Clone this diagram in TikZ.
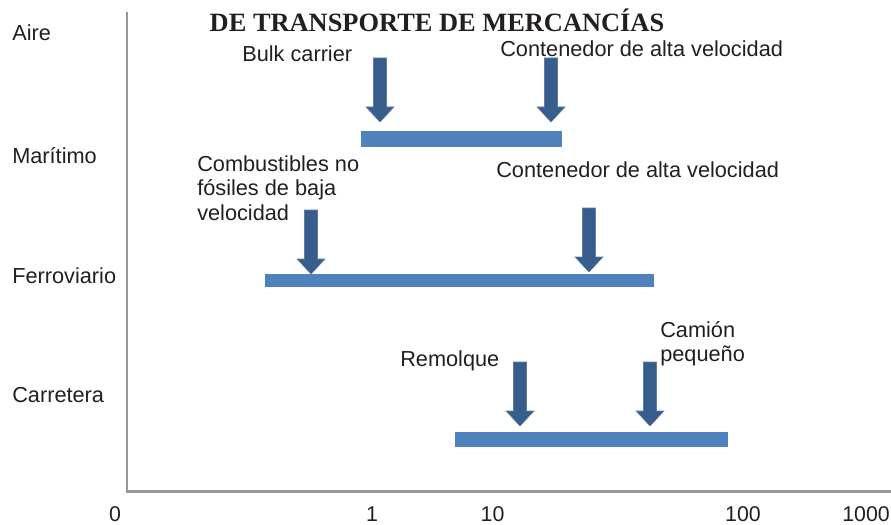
\documentclass[tikz,border=0pt]{standalone}
\usepackage{fontspec}
\setmainfont{Liberation Sans}
\newfontfamily\titlefont{Liberation Serif}
\definecolor{barc}{RGB}{79,129,189}
\definecolor{arrc}{RGB}{55,93,140}
\definecolor{axc}{RGB}{152,152,152}
\definecolor{txtc}{RGB}{35,31,32}
\newcommand\dnarrow[4]{%
  \fill[arrc,draw=arrc!80!white,line width=0.4pt] ({#2-6.5},#3) -- ({#2+6.5},#3) -- ({#2+6.5},{#4-15}) -- ({#2+14},{#4-15}) -- (#2,#4) -- ({#2-14},{#4-15}) -- ({#2-6.5},{#4-15}) -- cycle;
  \coordinate (#1) at (#2,#4);}
\begin{document}
\begin{tikzpicture}[x=0.75pt,y=-0.75pt,
  lbl/.style={inner sep=0pt,text=txtc,font=\fontsize{16.3}{18.4}\selectfont,align=left},
  num/.style={inner sep=0pt,text=txtc,font=\fontsize{16}{18}\selectfont},
  bar/.style={fill=barc,draw=none},
  axis/.style={draw=axc,line width=2.2pt}]
\useasboundingbox (0,0) rectangle (891,524);
% axes
\coordinate (ytop) at (127,12);
\coordinate (orig) at (127,491.5);
\coordinate (xend) at (891,491.5);
\draw[axis] (ytop) -- (orig) -- (xend);
% title
\node[inner sep=0pt,text=txtc,font=\titlefont\bfseries\fontsize{19.8}{22}\selectfont] (title) at (437,20) {DE TRANSPORTE DE MERCANC\'IAS};
% categories
\node[lbl,anchor=west] (aire) at (12,33) {Aire};
\node[lbl,anchor=west] (mar) at (12,156) {Mar\'itimo};
\node[lbl,anchor=west] (fer) at (12,276) {Ferroviario};
\node[lbl,anchor=west] (car) at (12,395) {Carretera};
% bars
\fill[bar] (361,131) rectangle (562,147);
\fill[bar] (265,274) rectangle (654,287);
\fill[bar] (455,432) rectangle (728,447);
% arrows
\dnarrow{a1}{380}{58}{122}
\dnarrow{a2}{551}{58}{122}
\dnarrow{a3}{311}{210}{274}
\dnarrow{a4}{589}{208}{272}
\dnarrow{a5}{520}{362}{426}
\dnarrow{a6}{650}{362}{426}
% labels
\node[lbl,anchor=west] (bulk) at (242,54) {Bulk carrier};
\node[lbl,anchor=west] (cont1) at (500,49) {Contenedor de alta velocidad};
\node[lbl,anchor=west] (cont2) at (496,170) {Contenedor de alta velocidad};
\node[lbl,anchor=north west] (comb) at (197,155) {Combustibles no\\f\'osiles de baja\\velocidad};
\node[lbl,anchor=west] (rem) at (400,361) {Remolque};
\node[lbl,anchor=north west] (cam) at (660,321) {Cami\'on\\peque\~no};
% axis numbers
\node[num] (n0) at (115,514) {0};
\node[num] (n1) at (372,514) {1};
\node[num] (n10) at (492.5,514) {10};
\node[num] (n100) at (743,514) {100};
\node[num] (n1000) at (866,514) {1000};
\end{tikzpicture}
\end{document}
